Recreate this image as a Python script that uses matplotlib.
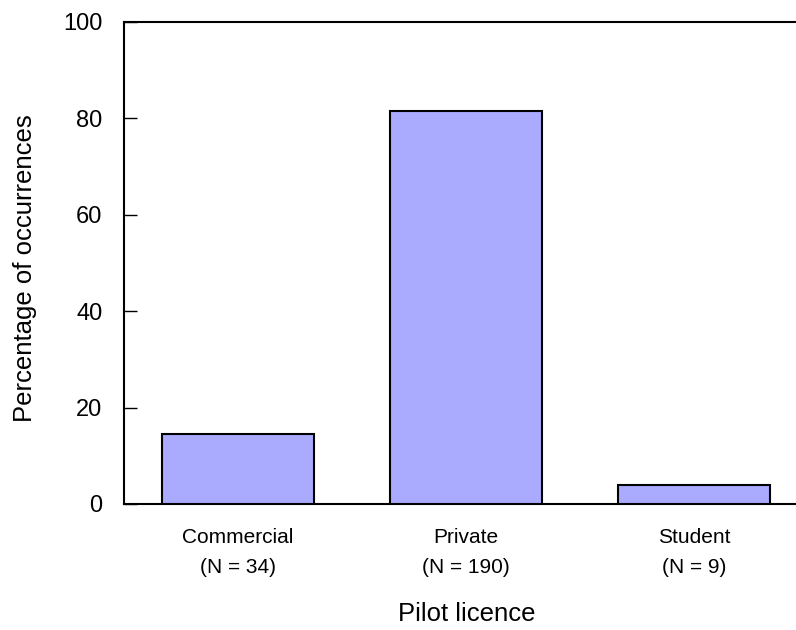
import matplotlib
matplotlib.use("Agg")
import matplotlib.pyplot as plt

# DATOS
categorias = ["Commercial", "Private", "Student"]
conteos = [34, 190, 9]
total = sum(conteos)
porcentajes = [c / total * 100 for c in conteos]
etiquetas = [f"{cat}\n(N = {n})" for cat, n in zip(categorias, conteos)]

plt.rcParams["font.family"] = ["Liberation Sans", "DejaVu Sans"]

fig = plt.figure(figsize=(7.96, 6.30), dpi=100)
ax = fig.add_axes([124 / 796, 126 / 630, 1 - 124 / 796, (504 - 22) / 630])

posiciones = list(range(len(categorias)))
ax.bar(posiciones, porcentajes, width=0.667, color="#aaaaff",
       edgecolor="black", linewidth=1.5, zorder=3)

ax.set_xlim(-0.5, 2.447)
ax.set_ylim(0, 100)
ax.set_yticks([0, 20, 40, 60, 80, 100])
ax.set_xticks(posiciones)
ax.set_xticklabels(etiquetas, fontsize=15, linespacing=1.75)

ax.tick_params(axis="y", direction="in", length=9, width=1, labelsize=17, pad=15.5)
ax.tick_params(axis="x", length=0, pad=17)

ax.spines["right"].set_visible(False)
for lado in ["left", "top", "bottom"]:
    ax.spines[lado].set_linewidth(1.5)

ax.set_xlabel("Pilot licence", fontsize=18.5)
ax.set_ylabel("Percentage of occurrences", fontsize=18.5)
ax.xaxis.set_label_coords((467 - 124) / 672, -(602 - 504) / 482)
ax.yaxis.set_label_coords(-(124 - 37) / 672, (504 - 268) / 482)

fig.savefig("out.png", dpi=100)
